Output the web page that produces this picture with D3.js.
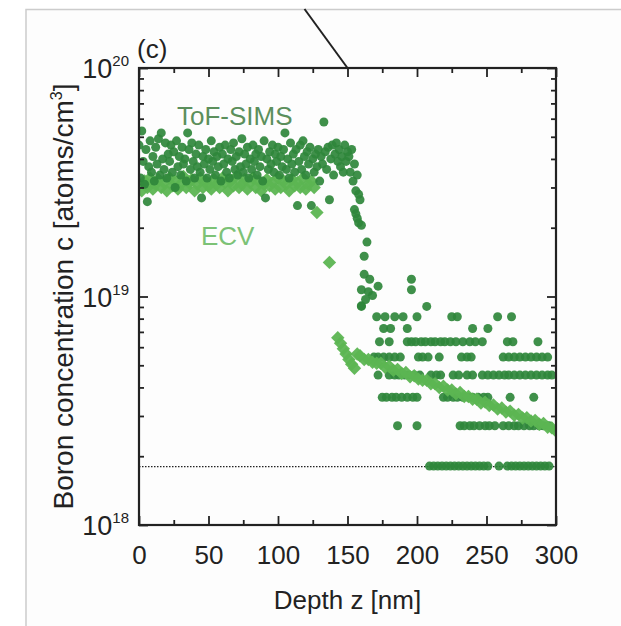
<!DOCTYPE html>
<html>
<head>
<meta charset="utf-8">
<script src="https://cdn.jsdelivr.net/npm/d3@7"></script>
<style>
  body { margin: 0; background: #fff; }
  svg text { font-family: "Liberation Sans", Arial, sans-serif; fill: #222; }
</style>
</head>
<body>
<div id="container"></div>
<script>
// ToF-SIMS plateau, [depth nm, conc x1e19]
const simsPlateau = [
  [0,4.6],[1,3.3],[2,5.3],[3,3.9],[4,3.1],[5,4.4],[6,2.6],[7,3.7],[8,4.8],[9,3.5],
  [10,4.1],[11,3.2],[12,4.5],[13,3.8],[14,4.9],[15,3.4],[16,5.2],[17,4.0],[18,3.6],[19,4.7],
  [20,3.3],[21,4.2],[22,3.9],[23,4.6],[24,3.5],[25,4.3],[26,3.0],[27,4.8],[28,3.7],[29,4.1],
  [30,3.4],[31,4.5],[32,3.8],[33,4.0],[34,3.2],[35,5.2],[36,4.4],[37,3.6],[38,4.7],[39,3.9],
  [40,3.3],[41,4.2],[42,3.7],[43,4.6],[44,3.5],[45,2.7],[46,4.1],[47,3.8],[48,4.4],[49,3.3],
  [50,4.0],[51,3.6],[52,4.8],[53,3.9],[54,4.3],[55,3.4],[56,4.1],[57,3.7],[58,4.5],[59,3.2],
  [60,4.2],[61,3.8],[62,4.6],[63,3.5],[64,4.0],[65,3.3],[66,4.4],[67,3.9],[68,4.7],[69,3.6],
  [70,4.1],[71,3.4],[72,4.3],[73,3.7],[74,4.9],[75,3.5],[76,4.2],[77,3.8],[78,4.5],[79,3.3],
  [80,4.0],[81,3.6],[82,4.6],[83,3.9],[84,4.2],[85,3.4],[86,4.4],[87,3.7],[88,4.1],[89,3.2],
  [90,4.8],[91,2.7],[92,4.0],[93,3.6],[94,4.3],[95,3.8],[96,4.6],[97,3.5],[98,4.2],[99,3.9],
  [100,4.5],[101,3.4],[102,4.1],[103,3.7],[104,4.4],[105,5.2],[106,3.6],[107,4.0],[108,3.3],[109,4.7],
  [110,3.8],[111,4.2],[112,3.5],[113,4.4],[114,2.5],[115,3.9],[116,4.6],[117,3.6],[118,4.8],[119,4.1],
  [120,3.4],[121,4.3],[122,3.8],[123,4.5],[124,2.5],[125,4.0],[126,3.5],[127,4.2],[128,3.7],[129,4.4],
  [130,3.2],[131,4.1],[132,3.8],[133,5.8],[134,4.3],[135,3.6],[136,4.5],[137,2.65],[138,4.0],[139,4.6],
  [140,3.4],[141,4.2],[142,4.7],[143,3.9],[144,4.4],[145,3.7],[146,4.1],[147,3.5],[148,4.6],[149,3.9],
  [150,4.3],[151,4.1],[152,3.5],[153,4.4],[154,3.2],[155,3.8],[156,2.9],[157,3.4],[158,2.8]
];

// ToF-SIMS drop region, [depth nm, conc x1e19]
const simsDrop = [
  [155,2.4],[156,2.3],[157,2.2],[158,2.1],[159,2.65],[160,2.05],[164,1.73],[162,1.5],
  [162,1.25],[166,1.19],[172,1.11],[160,1.07],[165,1.05],[168,1.01],[163,0.97],[160,0.91],
  [196,1.19],[196,1.07]
];

// ToF-SIMS tail: quantised levels (x1e18) and the depths where they show
const simsLevels = [1.81, 2.72, 3.62, 4.53, 5.43, 6.34, 7.24, 8.15, 9.05];
const simsLevelDepths = [
  [209,212,215,218,221,224,227,230,233,236,239,242,245,248,251,259,265,268,271,274,277,280,283,286,289,292,295],
  [186,200,231,234,238,241,245,249,252,256,262,266,270,273,277,281,284,288,291,295],
  [175,178,182,185,189,193,197,200,219,222,226,229,233,237,240,244,248,251,267,284],
  [172,180,184,187,191,194,198,202,210,214,217,226,230,236,240,247,251,255,259,263,266,270,274,278,282,286,290,294,297],
  [169,172,176,180,184,188,201,204,208,216,232,236,239,262,266,270,274,278,282,286,290,294],
  [173,180,193,196,199,203,206,210,213,217,220,224,228,233,238,242,247,265,269,287],
  [176,181,193,240,251],
  [171,177,184,190,200,225,229,258,268],
  [160,207]
];

// ECV plateau, [depth nm, conc x1e19]
const ecvPlateau = [
  [0,3.1],[2,2.9],[4,3.2],[6,3.0],[8,3.3],[10,2.95],[12,3.1],[14,3.25],[16,3.0],[18,3.15],
  [20,2.9],[22,3.3],[24,3.05],[26,3.2],[28,2.95],[30,3.1],[32,3.35],[34,3.0],[36,3.15],[38,3.25],
  [40,2.9],[42,3.1],[44,3.3],[46,3.0],[48,3.2],[50,3.05],[52,2.95],[54,3.25],[56,3.1],[58,3.0],
  [60,3.3],[62,3.15],[64,2.9],[66,3.2],[68,3.05],[70,3.35],[72,3.0],[74,3.1],[76,3.25],[78,2.95],
  [80,3.15],[82,3.3],[84,3.0],[86,3.2],[88,2.9],[90,3.1],[92,3.25],[94,3.05],[96,3.15],[98,2.95],
  [100,3.3],[102,3.0],[104,3.2],[106,3.1],[108,2.9],[110,3.25],[112,3.05],[114,3.15],[116,3.0],[118,3.3],
  [120,2.95],[122,3.1],[124,3.2],[126,3.0]
];

// ECV drop and tail, [depth nm, conc x1e18]
const ecvTail = [
  [128,23.3],[137,14.1],
  [143,6.6],[145,6.25],[147,5.9],[149,5.6],[151,5.3],[153,5.05],[155,4.85],[157,5.6],[159,5.5],
  [162,5.3],[165,5.3],[168,5.15],[171,5.1],[174,5.1],[177,4.9],[180,4.95],[183,4.75],[186,4.8],
  [189,4.6],[192,4.65],[195,4.45],[198,4.5],[201,4.35],[204,4.3],[207,4.3],[210,4.15],[213,4.15],
  [216,4.0],[219,4.05],[222,3.9],[225,3.9],[228,3.75],[231,3.8],[234,3.65],[237,3.65],[240,3.55],
  [243,3.55],[246,3.42],[249,3.45],[252,3.33],[255,3.35],[258,3.22],[261,3.25],[264,3.12],[267,3.15],
  [270,3.02],[273,3.05],[276,2.94],[279,2.95],[282,2.85],[285,2.87],[288,2.76],[291,2.78],[294,2.68],
  [297,2.66],[300,2.58]
];

const detectionLimit = 1.8e18;
const xMajor = [0, 50, 100, 150, 200, 250, 300];
const xMinor = [25, 75, 125, 175, 225, 275];
const yMajor = [1e18, 1e19, 1e20];
const yMinor = [2e18,3e18,4e18,5e18,6e18,7e18,8e18,9e18,2e19,3e19,4e19,5e19,6e19,7e19,8e19,9e19];

const width = 621, height = 626;
const margin = { top: 68, right: 65, bottom: 101, left: 139 };

const svg = d3.select('#container').append('svg')
  .attr('width', width).attr('height', height);

// grey page frame of the figure
svg.append('rect')
  .attr('x', 26).attr('y', 9.5).attr('width', width).attr('height', height)
  .attr('fill', '#fdfdfd').attr('stroke', '#cccccc').attr('stroke-width', 1.5);

const x = d3.scaleLinear().domain([0, 300]).range([margin.left, width - margin.right]);
const y = d3.scaleLog().domain([1e18, 1e20]).range([height - margin.bottom, margin.top]);

// pointer line from above
svg.append('line')
  .attr('x1', x(150) - 43).attr('y1', 9)
  .attr('x2', x(150)).attr('y2', y(1e20))
  .attr('stroke', '#222').attr('stroke-width', 2);

svg.append('clipPath').attr('id', 'plot')
  .append('rect')
  .attr('x', x(0)).attr('y', y(1e20))
  .attr('width', x(300) - x(0)).attr('height', y(1e18) - y(1e20));

const plot = svg.append('g').attr('clip-path', 'url(#plot)');

// detection limit
plot.append('line')
  .attr('x1', x(0)).attr('x2', x(300))
  .attr('y1', y(detectionLimit)).attr('y2', y(detectionLimit))
  .attr('stroke', '#222').attr('stroke-width', 1.3).attr('stroke-dasharray', '1.5,1.5');

const simsColor = '#2f873b';
const ecvColor = '#5cb552';
const diamond = d3.symbol(d3.symbolSquare, 90);

function drawEcv(data) {
  plot.append('g')
    .attr('fill', ecvColor).attr('fill-opacity', 0.95)
    .selectAll('path')
    .data(data)
    .join('path')
      .attr('d', diamond)
      .attr('transform', d => `translate(${x(d[0])},${y(d[1])}) rotate(45)`);
}

// ECV plateau sits under the SIMS cloud
drawEcv(ecvPlateau.map(d => [d[0], d[1] * 1e19]));

// SIMS dots
const simsTail = [];
simsLevels.forEach((lv, i) => simsLevelDepths[i].forEach(z => simsTail.push([z, lv * 1e18])));
const simsAll = simsPlateau.concat(simsDrop).map(d => [d[0], d[1] * 1e19]).concat(simsTail);

plot.append('g')
  .attr('fill', simsColor).attr('fill-opacity', 0.92)
  .selectAll('circle')
  .data(simsAll)
  .join('circle')
    .attr('cx', d => x(d[0]))
    .attr('cy', d => y(d[1]))
    .attr('r', 4.5);

// ECV tail on top
drawEcv(ecvTail.map(d => [d[0], d[1] * 1e18]));

// ticks
function ticks(g, axis) {
  g.call(axis);
  g.select('.domain').remove();
  g.selectAll('line').attr('stroke', '#222').attr('stroke-width', 1.8);
}

svg.append('g').attr('transform', `translate(0,${y(1e18)})`)
  .call(ticks, d3.axisBottom(x).tickValues(xMajor).tickSizeInner(-9).tickSizeOuter(0).tickPadding(21).tickFormat(d3.format('d')))
  .selectAll('text').attr('font-size', 26).attr('fill', '#222');
svg.append('g').attr('transform', `translate(0,${y(1e18)})`)
  .call(ticks, d3.axisBottom(x).tickValues(xMinor).tickSize(-5).tickFormat(''));
svg.append('g').attr('transform', `translate(0,${y(1e20)})`)
  .call(ticks, d3.axisTop(x).tickValues(xMajor).tickSize(-9).tickFormat(''));
svg.append('g').attr('transform', `translate(0,${y(1e20)})`)
  .call(ticks, d3.axisTop(x).tickValues(xMinor).tickSize(-5).tickFormat(''));

svg.append('g').attr('transform', `translate(${x(0)},0)`)
  .call(ticks, d3.axisLeft(y).tickValues(yMajor).tickSize(-9).tickFormat(''));
svg.append('g').attr('transform', `translate(${x(0)},0)`)
  .call(ticks, d3.axisLeft(y).tickValues(yMinor).tickSize(-5).tickFormat(''));
svg.append('g').attr('transform', `translate(${x(300)},0)`)
  .call(ticks, d3.axisRight(y).tickValues(yMajor).tickSize(-9).tickFormat(''));
svg.append('g').attr('transform', `translate(${x(300)},0)`)
  .call(ticks, d3.axisRight(y).tickValues(yMinor).tickSize(-5).tickFormat(''));

// frame
svg.append('rect')
  .attr('x', x(0)).attr('y', y(1e20))
  .attr('width', x(300) - x(0)).attr('height', y(1e18) - y(1e20))
  .attr('fill', 'none').attr('stroke', '#222').attr('stroke-width', 2.2);

// y tick labels 10^n
const yLab = svg.append('g').selectAll('text')
  .data(yMajor)
  .join('text')
    .attr('x', 129)
    .attr('y', d => y(d) + 10)
    .attr('text-anchor', 'end')
    .attr('font-size', 27);
yLab.append('tspan').text('10');
yLab.append('tspan').attr('font-size', 15).attr('dy', -12).text(d => Math.round(Math.log10(d)));

// axis titles
svg.append('text')
  .attr('x', (x(0) + x(300)) / 2).attr('y', 609)
  .attr('text-anchor', 'middle').attr('font-size', 26)
  .text('Depth z [nm]');

const yt = svg.append('text')
  .attr('transform', `translate(73,${(y(1e18) + y(1e20)) / 2}) rotate(-90)`)
  .attr('text-anchor', 'middle').attr('font-size', 28);
yt.append('tspan').text('Boron concentration c [atoms/cm');
yt.append('tspan').attr('font-size', 16).attr('dy', -11).text('3');
yt.append('tspan').attr('dy', 11).text(']');

svg.append('text').attr('x', 137).attr('y', 58).attr('font-size', 26).text('(c)');

// series labels
svg.append('text').attr('x', 177).attr('y', 125).attr('font-size', 26)
  .style('fill', '#5b8f5c').text('ToF-SIMS');
svg.append('text').attr('x', 201).attr('y', 245).attr('font-size', 26)
  .style('fill', '#7cc276').text('ECV');
</script>
</body>
</html>
